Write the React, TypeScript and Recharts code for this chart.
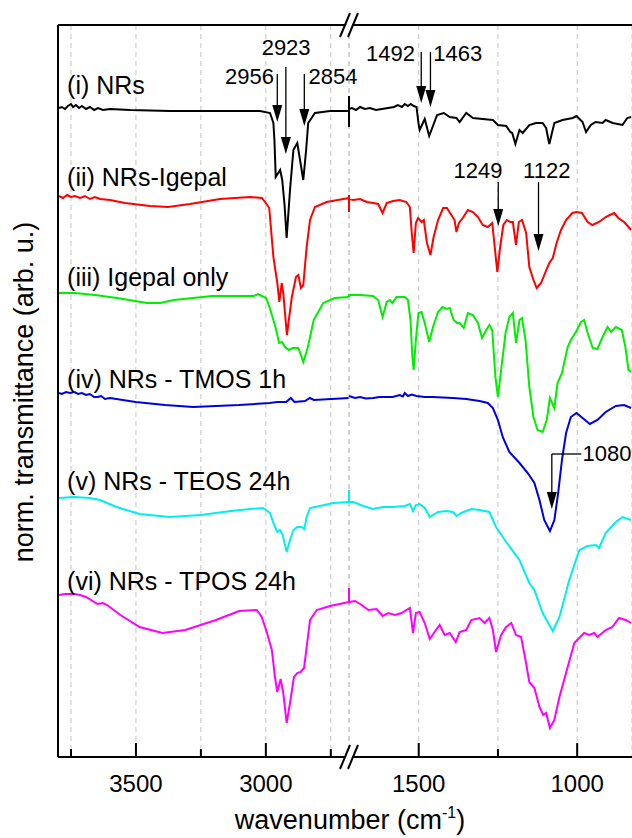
import React from 'react';
import { LineChart, Line, XAxis, YAxis, CartesianGrid, ReferenceLine, ReferenceDot } from 'recharts';

type Pt = [number, number];

// wavenumber (cm-1) / norm. transmittance (arb. u., curves stacked with offsets)
const leftTicks = [3750, 3500, 3250, 3000, 2750];
const rightTicks = [1500, 1250, 1000];
const majorTicks = [3500, 3000, 1500, 1000];

const nrsL: Pt[] = [
  [3796, 64.9], [3785, 65.0], [3773, 64.8], [3762, 65.1], [3750, 65.3], [3742, 65.0], [3731, 65.2], [3719, 64.9],
  [3708, 65.1], [3692, 64.8], [3677, 65.0], [3661, 64.7], [3646, 64.9], [3627, 64.7], [3600, 64.8], [3523, 64.7],
  [3369, 64.6], [3176, 64.6], [3022, 64.6], [2984, 64.4], [2971, 63.4], [2967, 61.7], [2962, 58.0], [2945, 58.7],
  [2937, 57.7], [2928, 55.2], [2920, 51.9], [2907, 56.7], [2894, 60.7], [2879, 61.4], [2856, 57.7], [2845, 60.7],
  [2837, 63.4], [2811, 64.4], [2753, 64.6], [2680, 64.6],
];
const nrsR: Pt[] = [
  [1720, 63.0], [1720, 66.1], [1720, 64.8], [1711, 64.9], [1698, 64.7], [1685, 65.0], [1670, 64.8], [1654, 64.9],
  [1635, 64.7], [1616, 64.8], [1597, 64.9], [1578, 65.0], [1566, 65.2], [1553, 65.0], [1544, 65.3], [1534, 65.1],
  [1525, 65.3], [1516, 65.1], [1507, 65.0], [1500, 63.2], [1497, 62.7], [1481, 63.8], [1467, 62.1], [1442, 64.2],
  [1421, 64.4], [1402, 64.0], [1381, 63.9], [1371, 63.5], [1350, 64.4], [1329, 63.9], [1298, 63.8], [1266, 63.7],
  [1250, 63.2], [1224, 63.1], [1211, 62.5], [1205, 62.4], [1195, 61.3], [1182, 62.7], [1172, 62.4], [1151, 63.2],
  [1130, 63.4], [1109, 63.4], [1098, 62.9], [1088, 61.3], [1072, 63.4], [1046, 63.7], [1014, 63.9], [1002, 64.1],
  [983, 63.5], [972, 62.5], [957, 63.2], [942, 63.5], [920, 63.4], [910, 63.7], [888, 63.4], [857, 63.2],
  [842, 63.9], [830, 64.0],
];

const nrsIgepalL: Pt[] = [
  [3796, 56.1], [3781, 55.9], [3765, 56.2], [3750, 56.0], [3735, 56.1], [3715, 55.9], [3696, 56.1], [3677, 55.8],
  [3658, 56.0], [3638, 55.8], [3600, 55.7], [3542, 55.4], [3446, 55.1], [3377, 55.0], [3292, 55.3], [3176, 55.8],
  [3061, 56.0], [3015, 55.9], [3003, 55.5], [2987, 54.9], [2971, 50.0], [2956, 47.4], [2948, 45.5], [2939, 47.4],
  [2933, 46.4], [2919, 42.2], [2900, 46.0], [2884, 48.0], [2875, 48.2], [2865, 46.9], [2856, 47.2], [2843, 51.0],
  [2830, 53.7], [2811, 55.0], [2766, 55.5], [2680, 55.9],
];
const nrsIgepalR: Pt[] = [
  [1720, 56.2], [1720, 54.5], [1720, 55.8], [1706, 55.7], [1685, 55.8], [1664, 55.5], [1644, 55.4], [1628, 55.3],
  [1614, 54.4], [1601, 55.4], [1581, 55.6], [1560, 55.7], [1539, 55.5], [1528, 55.0], [1522, 52.4], [1516, 50.4],
  [1509, 53.4], [1502, 53.9], [1491, 53.5], [1484, 53.7], [1474, 51.4], [1463, 50.2], [1453, 52.0], [1439, 53.7],
  [1423, 54.9], [1411, 54.9], [1397, 54.2], [1387, 53.7], [1381, 52.5], [1373, 53.4], [1361, 53.9], [1345, 54.7],
  [1329, 54.5], [1313, 54.0], [1298, 53.2], [1282, 53.0], [1268, 53.4], [1252, 48.5], [1243, 51.0], [1233, 53.2],
  [1222, 53.7], [1211, 53.5], [1203, 53.5], [1193, 51.2], [1184, 53.5], [1174, 53.7], [1161, 52.4], [1151, 49.0],
  [1140, 47.9], [1128, 46.9], [1114, 47.4], [1100, 48.5], [1088, 49.4], [1077, 49.9], [1065, 51.4], [1051, 52.7],
  [1035, 53.7], [1015, 54.4], [1002, 54.5], [985, 54.4], [967, 53.5], [952, 53.2], [931, 53.5], [910, 54.0],
  [897, 54.2], [883, 54.4], [870, 53.9], [852, 53.5], [838, 53.0], [830, 52.7],
];

const igepalL: Pt[] = [
  [3798, 46.4], [3735, 46.4], [3658, 46.2], [3573, 45.9], [3457, 45.4], [3407, 45.4], [3354, 45.7], [3207, 46.1],
  [3046, 46.1], [3030, 46.3], [3015, 46.1], [2999, 45.9], [2986, 45.0], [2963, 43.0], [2949, 41.4], [2938, 41.5],
  [2926, 41.0], [2912, 40.7], [2897, 40.9], [2875, 40.9], [2856, 39.5], [2838, 41.0], [2816, 43.7], [2779, 45.4],
  [2735, 45.9], [2680, 46.0],
];
const igepalR: Pt[] = [
  [1720, 46.0], [1720, 46.2], [1685, 46.2], [1644, 46.1], [1628, 45.7], [1614, 44.0], [1601, 45.5], [1591, 45.7],
  [1583, 45.4], [1570, 46.0], [1544, 46.0], [1534, 45.7], [1526, 43.7], [1520, 40.0], [1516, 38.7], [1509, 41.7],
  [1501, 44.4], [1491, 44.5], [1481, 43.4], [1467, 41.5], [1455, 43.0], [1439, 44.5], [1425, 45.0], [1413, 44.8],
  [1402, 44.9], [1390, 43.7], [1379, 43.4], [1371, 43.4], [1358, 42.9], [1345, 44.4], [1329, 44.2], [1313, 43.4],
  [1300, 41.9], [1287, 42.7], [1277, 43.2], [1268, 42.7], [1258, 38.0], [1250, 36.0], [1240, 38.7], [1226, 42.4],
  [1214, 44.0], [1203, 44.4], [1193, 41.4], [1182, 43.7], [1174, 43.9], [1163, 41.7], [1151, 37.0], [1138, 34.0],
  [1125, 32.7], [1109, 32.5], [1096, 33.7], [1086, 35.9], [1072, 34.9], [1062, 37.4], [1048, 38.4], [1030, 41.0],
  [1020, 41.7], [1004, 42.5], [988, 43.5], [978, 43.7], [967, 42.4], [951, 40.9], [936, 40.8], [920, 42.0],
  [904, 43.0], [893, 42.5], [878, 43.0], [859, 42.7], [848, 41.0], [838, 38.7], [830, 38.5],
];

const tmosL: Pt[] = [
  [3796, 36.4], [3785, 36.3], [3769, 36.5], [3754, 36.4], [3737, 36.5], [3723, 36.3], [3708, 36.4], [3692, 36.2],
  [3677, 36.3], [3661, 36.0], [3648, 36.0], [3634, 36.1], [3619, 35.8], [3600, 35.9], [3501, 35.5], [3388, 35.2],
  [3280, 35.0], [3103, 35.2], [2986, 35.4], [2956, 35.5], [2922, 35.5], [2904, 35.9], [2890, 35.5], [2849, 35.6],
  [2831, 35.9], [2815, 35.7], [2680, 35.9],
];
const tmosR: Pt[] = [
  [1720, 36.1], [1701, 35.9], [1685, 36.0], [1667, 35.85], [1644, 35.9], [1623, 36.0], [1601, 36.0], [1582, 36.0],
  [1560, 36.2], [1550, 36.05], [1544, 36.4], [1534, 36.1], [1522, 36.25], [1507, 36.1], [1481, 36.0], [1455, 36.0],
  [1424, 35.95], [1392, 35.9], [1350, 35.8], [1308, 35.6], [1282, 35.4], [1266, 34.9], [1250, 33.7], [1235, 32.0],
  [1214, 30.5], [1182, 29.4], [1156, 28.4], [1135, 27.4], [1119, 25.7], [1104, 23.7], [1086, 22.6], [1072, 23.7],
  [1060, 26.4], [1048, 29.7], [1035, 32.4], [1020, 34.0], [1002, 34.4], [983, 33.9], [960, 33.3], [936, 33.7],
  [910, 34.5], [878, 35.1], [852, 35.2], [830, 34.9],
];

const teosL: Pt[] = [
  [3796, 25.9], [3737, 26.0], [3678, 25.9], [3638, 25.7], [3575, 25.0], [3486, 24.3], [3369, 24.0], [3251, 24.2],
  [3133, 24.6], [3061, 24.8], [3010, 24.9], [2984, 24.4], [2971, 23.4], [2956, 22.5], [2946, 22.7], [2935, 22.2],
  [2920, 20.5], [2907, 21.7], [2894, 22.7], [2879, 23.0], [2862, 23.0], [2852, 22.8], [2843, 24.0], [2830, 24.9],
  [2792, 25.1], [2740, 25.4], [2680, 25.5],
];
const teosR: Pt[] = [
  [1720, 25.5], [1720, 26.7], [1720, 25.5], [1706, 25.5], [1675, 25.1], [1644, 24.8], [1612, 25.0], [1581, 25.0],
  [1544, 25.1], [1528, 25.3], [1518, 24.6], [1509, 25.2], [1497, 25.3], [1481, 24.9], [1465, 24.0], [1439, 24.5],
  [1413, 24.6], [1392, 24.5], [1381, 24.1], [1366, 24.4], [1334, 24.8], [1308, 24.7], [1277, 24.5], [1256, 23.0],
  [1224, 21.5], [1182, 19.7], [1151, 17.4], [1135, 16.7], [1109, 14.4], [1077, 12.6], [1056, 14.0], [1025, 17.7],
  [993, 20.7], [967, 21.1], [941, 21.2], [931, 20.9], [910, 22.4], [878, 23.5], [857, 24.0], [830, 23.7],
];

const tposL: Pt[] = [
  [3796, 16.2], [3773, 16.3], [3737, 16.3], [3715, 16.2], [3692, 16.0], [3648, 15.3], [3627, 15.4], [3611, 15.2],
  [3560, 14.2], [3486, 13.0], [3398, 12.4], [3310, 12.7], [3192, 13.7], [3103, 14.6], [3035, 14.7], [3016, 14.0],
  [2999, 12.7], [2977, 10.7], [2965, 8.0], [2956, 6.5], [2943, 7.8], [2933, 6.4], [2920, 3.4], [2907, 5.4],
  [2892, 8.0], [2879, 8.4], [2866, 8.5], [2853, 8.9], [2843, 11.0], [2830, 13.7], [2804, 14.7], [2753, 15.1],
  [2680, 15.5],
];
const tposR: Pt[] = [
  [1720, 15.4], [1720, 16.9], [1720, 15.5], [1701, 15.6], [1680, 15.2], [1659, 14.7], [1633, 14.8], [1614, 14.1],
  [1596, 14.4], [1575, 14.2], [1554, 14.4], [1528, 14.9], [1518, 12.4], [1509, 14.4], [1497, 14.5], [1481, 13.4],
  [1465, 11.8], [1450, 12.5], [1434, 13.2], [1418, 12.2], [1402, 12.4], [1383, 11.5], [1371, 12.5], [1350, 12.7],
  [1334, 13.7], [1308, 13.9], [1292, 13.4], [1277, 13.9], [1266, 12.7], [1256, 10.5], [1240, 12.2], [1224, 13.0],
  [1208, 13.4], [1193, 12.2], [1177, 12.0], [1163, 9.7], [1151, 7.5], [1135, 6.9], [1119, 5.0], [1107, 4.2],
  [1098, 4.4], [1086, 2.9], [1072, 3.7], [1056, 6.0], [1030, 9.0], [1009, 11.4], [978, 12.4], [962, 12.2],
  [946, 12.4], [936, 12.0], [910, 12.7], [889, 13.0], [868, 13.9], [847, 13.7], [830, 13.4],
];

const curveNames = ['(i) NRs', '(ii) NRs-Igepal', '(iii) Igepal only', '(iv) NRs - TMOS 1h', '(v) NRs - TEOS 24h', '(vi) NRs - TPOS 24h'];
const curveColors = ['#000000', '#ff0000', '#00ee00', '#0000dd', '#00eeee', '#ff00ff'];
const leftParts = [nrsL, nrsIgepalL, igepalL, tmosL, teosL, tposL];
const rightParts = [nrsR, nrsIgepalR, igepalR, tmosR, teosR, tposR];
const labelLevels = [66.3, 57.1, 47.1, 36.9, 26.7, 16.7];

// peak arrows: wavenumber, arrow start / tip, label anchor point
const leftPeaks = [
  { text: '2956', x: 2956, from: 68.3, tip: 63.5, tx: 2969, ty: 67.3, anchor: 'end' },
  { text: '2923', x: 2923, from: 69.0, tip: 60.3, tx: 2922, ty: 70.2, anchor: 'middle' },
  { text: '2854', x: 2852, from: 68.3, tip: 63.1, tx: 2836, ty: 67.3, anchor: 'start' },
];
const rightPeaks = [
  { text: '1492', x: 1492, from: 70.5, tip: 65.4, tx: 1512, ty: 69.6, anchor: 'end' },
  { text: '1463', x: 1463, from: 70.5, tip: 65.0, tx: 1454, ty: 69.6, anchor: 'start' },
  { text: '1249', x: 1249, from: 57.5, tip: 53.1, tx: 1236, ty: 57.9, anchor: 'end' },
  { text: '1122', x: 1122, from: 57.5, tip: 50.6, tx: 1096, ty: 57.9, anchor: 'middle' },
];

const FONT = '"Liberation Sans", Arial, Helvetica, sans-serif';
const Y_MAX = 73.2;
const H = 838;

const rows = (pts: Pt[]) => pts.map(([w, v]) => ({ w, v }));

const BottomTick = (p: any) => {
  const major = majorTicks.includes(p.payload.value);
  return (
    <g>
      <line x1={p.x} x2={p.x} y1={p.y} y2={p.y - (major ? 14 : 8)} stroke="#000" strokeWidth={2} />
      {major && (
        <text x={p.x} y={p.y + 35} textAnchor="middle" fontSize={24} fontFamily={FONT} fill="#000">
          {p.payload.value}
        </text>
      )}
    </g>
  );
};

const TopTick = (p: any) => {
  const major = majorTicks.includes(p.payload.value);
  return <line x1={p.x} x2={p.x} y1={p.y} y2={p.y + (major ? 14 : 8)} stroke="#000" strokeWidth={2} />;
};

const textShape = (text: string, anchor: any, size: number) => (p: any) => (
  <text x={p.cx} y={p.cy} textAnchor={anchor} fontSize={size} fontFamily={FONT} fill="#000">{text}</text>
);

const headShape = (p: any) => (
  <path d={`M${p.cx},${p.cy}L${p.cx - 5},${p.cy - 17}L${p.cx + 5},${p.cy - 17}Z`} fill="#000" />
);

const arrows = (peaks: typeof leftPeaks) =>
  peaks.flatMap((pk) => [
    <ReferenceLine key={pk.text + 'l'} segment={[{ x: pk.x, y: pk.from }, { x: pk.x, y: pk.tip + 1 }]} stroke="#000" strokeWidth={1.3} ifOverflow="visible" />,
    <ReferenceDot key={pk.text + 'h'} x={pk.x} y={pk.tip} ifOverflow="visible" shape={headShape} />,
    <ReferenceDot key={pk.text + 't'} x={pk.tx} y={pk.ty} ifOverflow="visible" shape={textShape(pk.text, pk.anchor, 22)} />,
  ]);

const axisLine = { stroke: '#000', strokeWidth: 2 };

export default function App() {
  return (
    <div style={{ position: 'absolute', left: 0, top: 0, width: 632, height: H, overflow: 'hidden', background: '#fff' }}>
      <style>{`.recharts-surface{overflow:visible}`}</style>

      <div style={{ position: 'absolute', left: 0, top: 0 }}>
        <LineChart width={349} height={H} margin={{ top: 0, right: 0, bottom: 0, left: 0 }}>
          <CartesianGrid horizontal={false} stroke="#c4c4c4" strokeDasharray="5 4" />
          <XAxis type="number" dataKey="w" domain={[2680, 3800]} reversed ticks={leftTicks} interval={0}
            tick={(p: any) => <BottomTick {...p} />} tickLine={false} tickSize={0} tickMargin={0} height={81} axisLine={axisLine} />
          <XAxis xAxisId="top" orientation="top" type="number" dataKey="w" domain={[2680, 3800]} reversed
            ticks={leftTicks} interval={0} tick={(p: any) => <TopTick {...p} />} tickLine={false} tickSize={0} tickMargin={0}
            height={25} axisLine={axisLine} />
          <YAxis type="number" domain={[0, Y_MAX]} width={58} tick={false} tickLine={false} axisLine={axisLine} />
          {leftParts.map((pts, i) => (
            <Line key={i} data={rows(pts)} dataKey="v" type="linear" stroke={curveColors[i]} strokeWidth={2}
              dot={false} isAnimationActive={false} />
          ))}
          {curveNames.map((name, i) => (
            <ReferenceDot key={name} x={3765} y={labelLevels[i]} ifOverflow="visible" shape={textShape(name, 'start', 25)} />
          ))}
          {arrows(leftPeaks)}
        </LineChart>
      </div>

      <div style={{ position: 'absolute', left: 349, top: 0 }}>
        <LineChart width={283} height={H} margin={{ top: 0, right: 0, bottom: 0, left: 0 }}>
          <CartesianGrid horizontal={false} stroke="#c4c4c4" strokeDasharray="5 4" />
          <XAxis type="number" dataKey="w" domain={[827, 1720]} reversed ticks={rightTicks} interval={0}
            tick={(p: any) => <BottomTick {...p} />} tickLine={false} tickSize={0} tickMargin={0} height={81} axisLine={axisLine} />
          <XAxis xAxisId="top" orientation="top" type="number" dataKey="w" domain={[827, 1720]} reversed
            ticks={rightTicks} interval={0} tick={(p: any) => <TopTick {...p} />} tickLine={false} tickSize={0} tickMargin={0}
            height={25} axisLine={axisLine} />
          <YAxis hide type="number" domain={[0, Y_MAX]} />
          {rightParts.map((pts, i) => (
            <Line key={i} data={rows(pts)} dataKey="v" type="linear" stroke={curveColors[i]} strokeWidth={2}
              dot={false} isAnimationActive={false} />
          ))}
          {arrows(rightPeaks)}
          <ReferenceLine segment={[{ x: 1080, y: 30.3 }, { x: 1080, y: 25.8 }]} stroke="#000" strokeWidth={1.3} ifOverflow="visible" />
          <ReferenceLine segment={[{ x: 1080, y: 30.3 }, { x: 987, y: 30.3 }]} stroke="#000" strokeWidth={1.3} ifOverflow="visible" />
          <ReferenceDot x={1080} y={24.8} ifOverflow="visible" shape={headShape} />
          <ReferenceDot x={983} y={29.6} ifOverflow="visible" shape={textShape('1080', 'start', 22)} />
        </LineChart>
      </div>

      {/* axis break marks and axis titles */}
      <svg width={632} height={H} style={{ position: 'absolute', left: 0, top: 0, pointerEvents: 'none' }}>
        {[25, 757].map((y) => (
          <g key={y}>
            <polygon points={`${341.5},${y + 12} ${350.5},${y - 12} ${356.5},${y - 12} ${347.5},${y + 12}`} fill="#fff" />
            <line x1={340} y1={y + 12} x2={350} y2={y - 12} stroke="#000" strokeWidth={2} />
            <line x1={348} y1={y + 12} x2={358} y2={y - 12} stroke="#000" strokeWidth={2} />
          </g>
        ))}
        <text x={350} y={829} textAnchor="middle" fontSize={27} fontFamily={FONT} fill="#000">
          wavenumber (cm<tspan dy={-11} fontSize={16}>-1</tspan><tspan dy={11}>)</tspan>
        </text>
        <text x={33} y={392} transform="rotate(-90 33 392)" textAnchor="middle" fontSize={27} fontFamily={FONT} fill="#000">
          norm. transmittance (arb. u.)
        </text>
      </svg>
    </div>
  );
}
